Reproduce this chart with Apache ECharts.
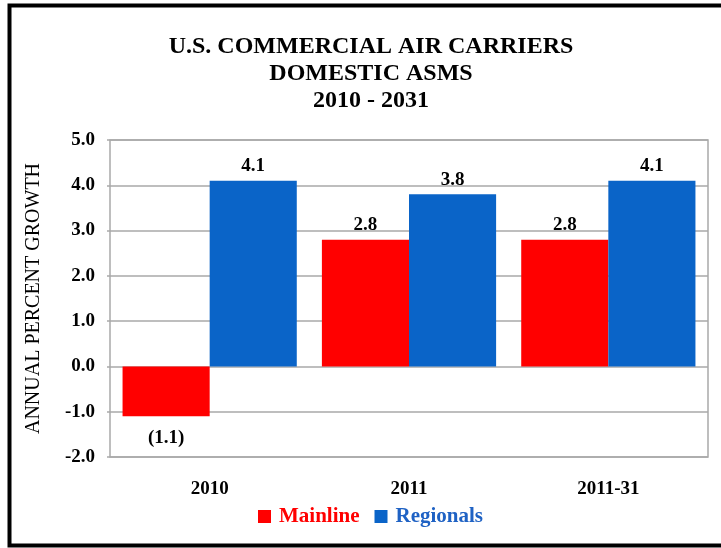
<!DOCTYPE html>
<html>
<head>
<meta charset="utf-8">
<title>U.S. Commercial Air Carriers – Domestic ASMs</title>
<script src="https://cdn.jsdelivr.net/npm/echarts@6/dist/echarts.min.js"></script>
<style>
  html, body { margin: 0; padding: 0; background: #ffffff; }
  #chart { width: 721px; height: 548px; }
</style>
</head>
<body>
<div id="chart"></div>
<script>
// Annual percent growth in domestic available seat miles
const categories = ['2010', '2011', '2011-31'];
const mainline = [-1.1, 2.8, 2.8];
const regionals = [4.1, 3.8, 4.1];
const yTicks = { min: -2, max: 5, interval: 1 };

const SERIF = '"Liberation Serif", "Times New Roman", serif';
const RED = '#ff0000';
const BLUE = '#0a64c8';
const GRID_GREY = '#a9a9a9';

// Negative growth is written in parentheses, below the bar
const fmtValue = v => (v < 0 ? '(' + Math.abs(v).toFixed(1) + ')' : v.toFixed(1));
const toItems = arr => arr.map(v => ({
  value: v,
  label: v < 0 ? { position: 'bottom', distance: 12 } : { position: 'top', distance: 5 }
}));

const valueLabel = {
  show: true,
  color: '#000',
  fontFamily: SERIF,
  fontWeight: 'bold',
  fontSize: 19,
  formatter: p => fmtValue(p.value)
};

const chart = echarts.init(document.getElementById('chart'), null, { renderer: 'canvas' });
chart.setOption({
  backgroundColor: '#ffffff',
  animation: false,
  title: {
    text: 'U.S. COMMERCIAL AIR CARRIERS\nDOMESTIC ASMS\n2010 - 2031',
    left: 366,
    top: 28,
    textAlign: 'center',
    padding: 5,
    textStyle: {
      fontFamily: SERIF,
      fontWeight: 'bold',
      fontSize: 24,
      lineHeight: 27,
      color: '#000'
    }
  },
  // thick black frame around the whole figure
  graphic: [{
    type: 'rect',
    shape: { x: 9.5, y: 5.5, width: 800, height: 540 },
    style: { fill: 'none', stroke: '#000', lineWidth: 4 },
    silent: true,
    z: 100
  }],
  grid: {
    left: 110,
    right: 13,
    top: 140,
    bottom: 91,
    show: true,
    borderColor: GRID_GREY,
    borderWidth: 1.5,
    backgroundColor: '#ffffff'
  },
  legend: {
    left: 253,
    top: 501,
    icon: 'rect',
    itemWidth: 13,
    itemHeight: 13,
    itemGap: 15,
    selectedMode: false,
    textStyle: {
      fontFamily: SERIF,
      fontWeight: 'bold',
      fontSize: 21,
      padding: [0, 0, 0, 3]
    },
    data: [
      { name: 'Mainline', textStyle: { color: RED } },
      { name: 'Regionals', textStyle: { color: '#1f62c4' } }
    ]
  },
  xAxis: {
    type: 'category',
    data: categories,
    axisLine: { show: false },
    axisTick: { show: false },
    axisLabel: {
      margin: 23,
      color: '#000',
      fontFamily: SERIF,
      fontWeight: 'bold',
      fontSize: 19
    }
  },
  yAxis: {
    type: 'value',
    min: yTicks.min,
    max: yTicks.max,
    interval: yTicks.interval,
    name: 'ANNUAL PERCENT GROWTH',
    nameLocation: 'middle',
    nameGap: 66,
    nameRotate: 90,
    nameTextStyle: {
      color: '#000',
      fontFamily: SERIF,
      fontWeight: 'normal',
      fontSize: 20
    },
    axisLine: { show: false },
    axisTick: { show: true, length: 3, lineStyle: { color: GRID_GREY, width: 1.5 } },
    axisLabel: {
      margin: 15,
      color: '#000',
      fontFamily: SERIF,
      fontWeight: 'bold',
      fontSize: 19,
      formatter: v => v.toFixed(1)
    },
    splitLine: { lineStyle: { color: GRID_GREY, width: 1.5 } }
  },
  series: [
    {
      name: 'Mainline',
      type: 'bar',
      data: toItems(mainline),
      barWidth: '43.7%',
      barGap: '0%',
      itemStyle: { color: RED },
      label: valueLabel
    },
    {
      name: 'Regionals',
      type: 'bar',
      data: toItems(regionals),
      barWidth: '43.7%',
      barGap: '0%',
      itemStyle: { color: BLUE },
      label: valueLabel
    }
  ]
});
</script>
</body>
</html>
